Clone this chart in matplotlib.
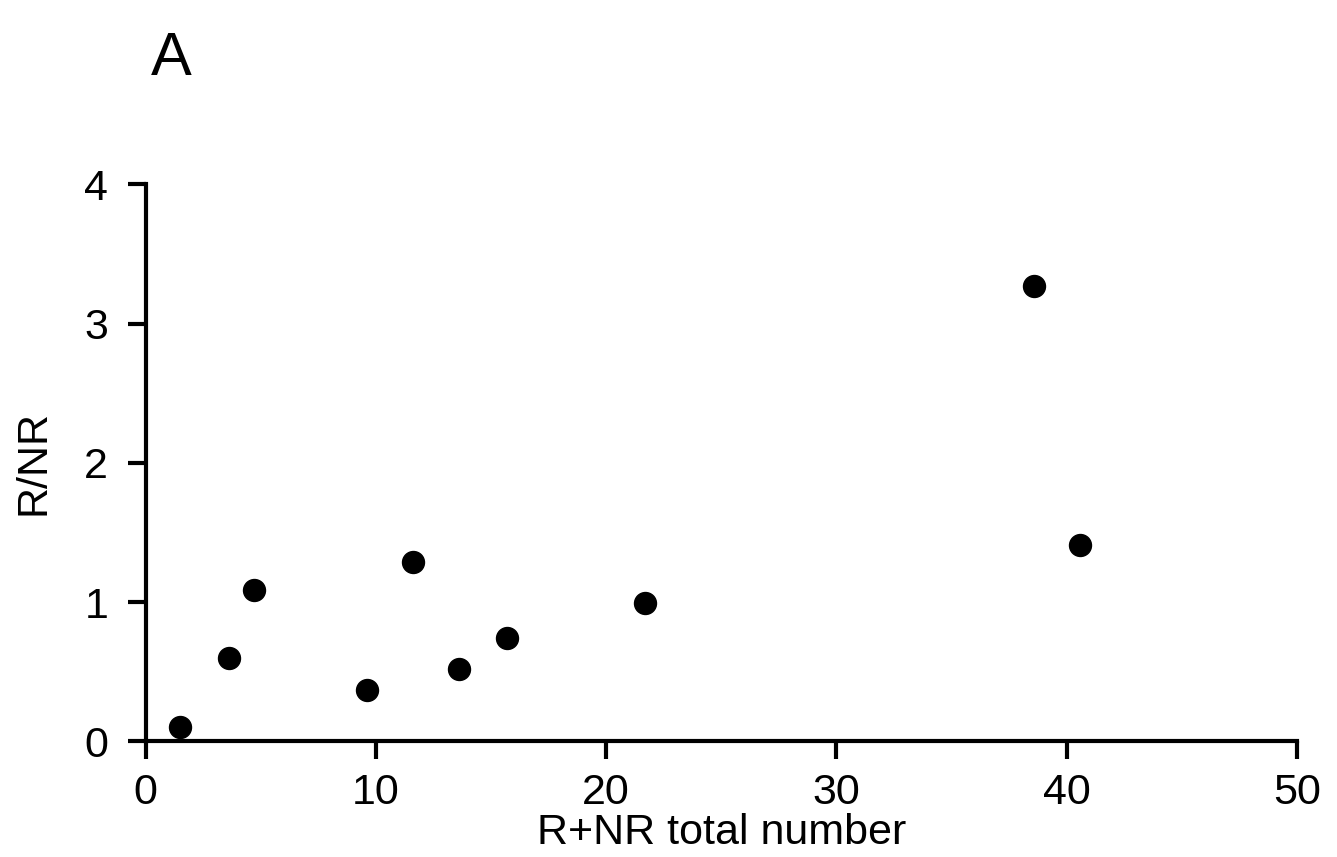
import matplotlib
matplotlib.use("Agg")
import matplotlib.pyplot as plt

# R+NR total number vs R/NR ratio
total_number = [1.5, 3.6, 4.7, 9.6, 11.6, 13.6, 15.7, 21.7, 38.6, 40.6]
ratio = [0.10, 0.60, 1.09, 0.37, 1.29, 0.52, 0.74, 0.99, 3.27, 1.41]

x_ticks = [0, 10, 20, 30, 40, 50]
y_ticks = [0, 1, 2, 3, 4]

plt.rcParams['font.family'] = ['Liberation Sans', 'DejaVu Sans']

fig = plt.figure(figsize=(13.37, 8.57), dpi=100)
ax = fig.add_axes([0.109, 0.135, 0.861, 0.650])

ax.scatter(total_number, ratio, s=250, c='black', zorder=3, clip_on=False)

ax.set_xlim(0, 50)
ax.set_ylim(0, 4)
ax.set_xticks(x_ticks)
ax.set_yticks(y_ticks)

ax.spines['top'].set_visible(False)
ax.spines['right'].set_visible(False)
for s in ['left', 'bottom']:
    ax.spines[s].set_linewidth(3)

ax.tick_params(axis='both', direction='out', length=13, width=3,
               labelsize=31)
ax.tick_params(axis='y', pad=14)
ax.tick_params(axis='x', pad=10)

ax.set_xlabel('R+NR total number', fontsize=31, labelpad=0)
ax.set_ylabel('R/NR', fontsize=31, labelpad=22)

fig.text(0.113, 0.912, 'A', fontsize=44, ha='left', va='baseline')

fig.savefig('out.png', dpi=100, facecolor='white')
